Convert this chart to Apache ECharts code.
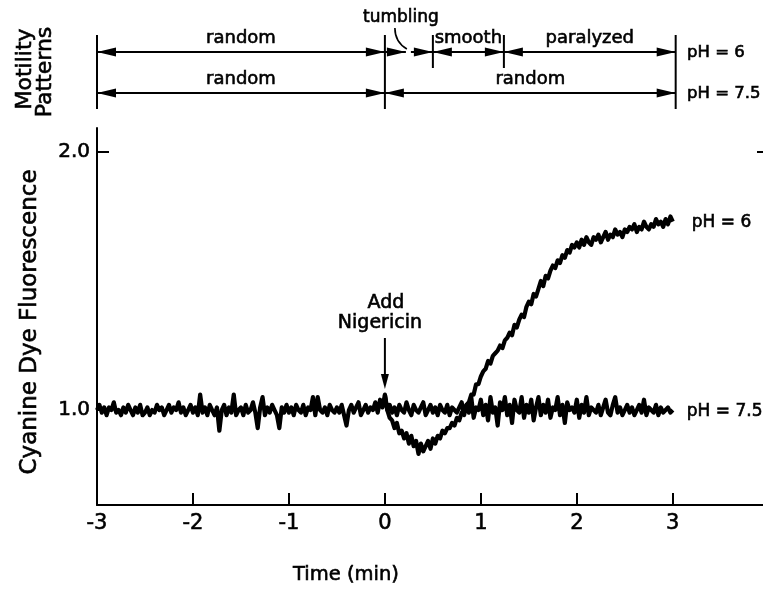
<!DOCTYPE html>
<html><head><meta charset="utf-8">
<script src="https://cdn.jsdelivr.net/npm/echarts@6/dist/echarts.min.js"></script>
<style>html,body{margin:0;padding:0;background:#fff}#c{width:763px;height:590px}</style>
</head><body><div id="c"></div>
<script>
// ---- data ----
const TIME_START = -3;
const TIME_STEP = 0.025;
const ph75Values = [
1.00,1.02,0.99,1.01,0.98,1.01,1.00,1.03,0.99,1.00,0.98,1.01,0.99,1.02,1.00,0.98,1.01,0.99,1.02,0.98,
0.99,1.01,0.98,1.00,0.99,1.02,1.00,1.01,0.98,1.00,1.02,0.99,1.01,1.00,1.03,0.99,1.01,0.98,1.00,1.02,
0.99,1.01,0.98,1.06,0.99,1.01,0.98,1.02,1.00,0.98,1.01,0.92,1.00,1.02,0.98,1.01,0.99,1.06,0.98,1.00,
1.01,0.98,1.02,0.99,1.00,1.03,0.99,0.93,1.01,1.05,0.98,1.01,0.99,1.02,1.00,0.98,0.93,1.01,0.99,1.02,
0.99,1.01,0.98,1.02,1.00,0.99,1.02,0.98,1.01,1.00,1.05,0.98,1.05,1.00,0.99,1.01,0.98,1.02,1.00,0.99,
1.01,0.99,1.02,0.98,0.94,1.00,1.02,0.99,1.01,1.03,0.98,1.00,1.02,0.99,1.01,1.00,1.03,0.99,1.04,1.01,
1.06,1.00,1.02,0.99,1.01,0.98,1.02,1.00,0.99,1.03,1.00,0.98,1.02,1.00,0.99,1.01,1.03,0.98,1.00,1.02,
0.99,1.01,0.98,1.02,1.00,0.99,1.02,0.98,1.01,1.00,0.99,1.01,1.03,0.98,1.02,0.99,1.05,0.97,1.01,1.00,
1.04,0.98,1.02,0.96,1.05,0.99,1.01,0.94,1.03,1.00,1.05,0.98,1.02,0.95,1.04,1.00,0.99,1.05,0.97,1.02,
0.99,1.04,0.96,1.01,1.05,0.98,1.02,0.99,1.04,0.97,1.01,1.00,1.05,0.98,1.02,0.95,1.03,1.00,1.01,0.99,
1.04,0.97,1.02,0.99,1.05,0.98,1.01,1.00,0.99,1.02,0.98,1.01,1.04,0.99,0.98,1.02,1.05,0.99,1.01,0.98,
1.00,1.02,0.99,1.01,0.98,1.00,1.02,0.99,1.04,0.98,1.01,1.00,0.99,1.02,0.98,1.01,0.99,1.00,1.01,0.99,
1.00
];
const PH6_START = 0;
const ph6Values = [
1.06,1.00,0.97,0.96,0.93,0.95,0.91,0.92,0.89,0.91,0.87,0.90,0.86,0.88,0.83,0.87,0.84,0.86,0.88,0.85,
0.89,0.87,0.90,0.89,0.92,0.91,0.93,0.93,0.95,0.94,0.97,0.96,0.99,1.00,1.02,1.03,1.06,1.06,1.10,1.10,
1.13,1.15,1.16,1.19,1.18,1.21,1.22,1.23,1.25,1.24,1.27,1.28,1.30,1.29,1.33,1.32,1.35,1.37,1.36,1.40,
1.42,1.41,1.45,1.44,1.47,1.50,1.48,1.52,1.51,1.54,1.56,1.55,1.58,1.57,1.60,1.59,1.62,1.61,1.64,1.63,
1.65,1.63,1.66,1.64,1.67,1.65,1.64,1.67,1.66,1.68,1.65,1.67,1.69,1.66,1.68,1.67,1.70,1.68,1.69,1.67,
1.70,1.69,1.71,1.70,1.72,1.69,1.71,1.70,1.73,1.71,1.70,1.72,1.71,1.74,1.72,1.73,1.71,1.74,1.72,1.75,
1.73
];
const seriesNames = ['pH = 7.5', 'pH = 6'];
const xTicks = [-3, -2, -1, 0, 1, 2, 3];
const yTicks = [1, 2];
const rowLabels = ['pH = 6', 'pH = 7.5'];
const ph6Bounds = [-3, 0, 0.5, 1.24, 3.03];
const ph6Patterns = ['random', 'tumbling', 'smooth', 'paralyzed'];
const ph75Bounds = [-3, 0, 3.03];
const ph75Patterns = ['random', 'random'];
const eventTime = 0;
const eventLabel = ['Add', 'Nigericin'];

// ---- chart ----
const FONT = 'DejaVu Sans';
const BLACK = '#000';
const HEAVY = 0.6;
function toPairs(start, vals) {
  return vals.map((v, i) => [Math.round((start + i * TIME_STEP) * 1000) / 1000, v]);
}
const chart = echarts.init(document.getElementById('c'), null, {renderer: 'canvas'});
const labelStyle = {color: BLACK, fontFamily: FONT, fontSize: 20, textBorderColor: BLACK, textBorderWidth: HEAVY};
chart.setOption({
  animation: false,
  backgroundColor: '#fff',
  grid: {left: 97, top: 128, right: 0, bottom: 85},
  xAxis: {
    type: 'value', min: -3, max: 3.94, interval: 1,
    axisLine: {onZero: false, lineStyle: {color: BLACK, width: 2}},
    axisTick: {inside: true, length: 12, customValues: xTicks, lineStyle: {color: BLACK, width: 2}},
    axisLabel: Object.assign({customValues: xTicks, margin: 8, fontSize: 21,
      formatter: v => String(v)}, labelStyle, {fontSize: 21}),
    splitLine: {show: false}
  },
  yAxis: [{
    type: 'value', min: 0.632, max: 2.093,
    axisLine: {show: true, onZero: false, lineStyle: {color: BLACK, width: 2}},
    axisTick: {show: true, inside: true, length: 12, customValues: yTicks, lineStyle: {color: BLACK, width: 2}},
    axisLabel: Object.assign({customValues: yTicks, margin: 7,
      formatter: v => v.toFixed(1)}, labelStyle),
    splitLine: {show: false}
  }, {
    type: 'value', position: 'right', min: 0.632, max: 2.093,
    axisLine: {show: false, onZero: false},
    axisTick: {show: true, inside: true, length: 6, customValues: [2], lineStyle: {color: BLACK, width: 2}},
    axisLabel: {show: false},
    splitLine: {show: false}
  }],
  series: [{
    name: seriesNames[0], type: 'line', showSymbol: false, symbol: 'none',
    lineStyle: {color: BLACK, width: 4.2, join: 'round'},
    data: toPairs(TIME_START, ph75Values)
  }, {
    name: seriesNames[1], type: 'line', showSymbol: false, symbol: 'none',
    lineStyle: {color: BLACK, width: 4.2, join: 'round'},
    data: toPairs(PH6_START, ph6Values)
  }]
});

// ---- annotations ----
const px = t => chart.convertToPixel({xAxisIndex: 0}, t);
const py = v => chart.convertToPixel({yAxisIndex: 0}, v);
const els = [];
function text(x, y, s, size, align, rot) {
  els.push({type: 'text', x: x, y: y, rotation: rot || 0, silent: true,
    style: {text: s, fontFamily: FONT, fontSize: size, fill: BLACK,
      stroke: BLACK, lineWidth: HEAVY,
      align: align || 'center', verticalAlign: 'middle',
      textAlign: align || 'center', textVerticalAlign: 'middle'}});
}
function line(x1, y1, x2, y2, w) {
  els.push({type: 'line', silent: true, shape: {x1, y1, x2, y2}, style: {stroke: BLACK, lineWidth: w || 2}});
}
function head(x, y, dir) { // dir: +1 right, -1 left
  els.push({type: 'polygon', silent: true,
    shape: {points: [[x, y], [x - dir * 19, y - 4.5], [x - dir * 19, y + 4.5]]}, style: {fill: BLACK}});
}
function headDown(x, y) {
  els.push({type: 'polygon', silent: true,
    shape: {points: [[x, y], [x - 4, y - 15], [x + 4, y - 15]]}, style: {fill: BLACK}});
}

const ROW_Y = [52, 93];
const rows = [[ph6Bounds, ph6Patterns], [ph75Bounds, ph75Patterns]];
rows.forEach(([bounds, pats], r) => {
  const y = ROW_Y[r];
  pats.forEach((p, i) => {
    const x0 = px(bounds[i]), x1 = px(bounds[i + 1]);
    if (p === 'tumbling') {
      const xm = (x0 + x1) / 2 - 1;
      line(x0, y, xm - 2, y); head(xm - 2, y, 1);
      line(xm + 3, y, x1, y); head(x1, y, 1);
      text(xm - 7, 18, p, 17, 'center');
      els.push({type: 'bezierCurve', silent: true,
        shape: {x1: xm - 13, y1: 28, x2: xm - 1, y2: 49, cpx1: xm - 13, cpy1: 42},
        style: {stroke: BLACK, lineWidth: 1.6, fill: null}});
    } else {
      line(x0, y, x1, y); head(x0, y, -1); head(x1, y, 1);
      text((x0 + x1) / 2, y - 14, p, 18, 'center');
    }
  });
  text(687, y + 1, rowLabels[r], 16.5, 'left');
});
// vertical bars
const allB = Array.from(new Set(ph6Bounds.concat(ph75Bounds)));
allB.forEach(b => {
  const both = ph75Bounds.includes(b) && ph6Bounds.includes(b);
  line(px(b), 35, px(b), both ? 109 : 68, 2);
});

// axis titles
text(30, 322, 'Cyanine Dye Fluorescence', 23, 'center', Math.PI / 2);
text(25, 69, 'Motility', 22, 'center', Math.PI / 2);
text(45, 72, 'Patterns', 22, 'center', Math.PI / 2);
text(346, 575, 'Time (min)', 19.5, 'center');

// event
const ex = px(eventTime);
text(ex + 1, 303, eventLabel[0], 19, 'center');
text(ex - 5, 323, eventLabel[1], 19, 'center');
line(ex, 338, ex, 376, 2);
headDown(ex, 389);

// series end labels
const l6 = ph6Values.length - 1, l75 = ph75Values.length - 1;
text(px(PH6_START + l6 * TIME_STEP) + 19, py(ph6Values[l6]) + 1, seriesNames[1], 17, 'left');
text(px(TIME_START + l75 * TIME_STEP) + 14, py(ph75Values[l75]) + 2, seriesNames[0], 17, 'left');

chart.setOption({graphic: {elements: els}});
</script></body></html>
